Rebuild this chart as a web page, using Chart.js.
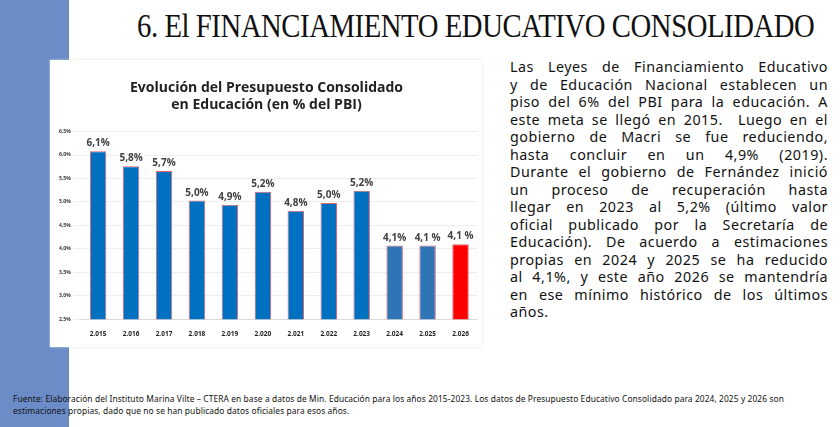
<!DOCTYPE html>
<html>
<head>
<meta charset="utf-8">
<script src="https://cdn.jsdelivr.net/npm/chart.js@4/dist/chart.umd.min.js"></script>
<style>
body{margin:0;width:840px;height:427px;background:#fff;position:relative;overflow:hidden;font-family:"Noto Sans",sans-serif}
#strip{position:absolute;left:0;top:0;width:69px;height:427px;background:#6b8cc6}
#title{position:absolute;left:137px;top:8px;font-family:"Liberation Serif",serif;font-size:33px;color:#111;white-space:nowrap;transform:scaleX(0.87);transform-origin:left top;letter-spacing:-0.5px}
#box{position:absolute;left:50px;top:60px;width:432px;height:287px;background:#fff;box-shadow:0 0 2px #ddd}
#txt{position:absolute;left:510px;top:58px;width:318px;font-family:"Noto Sans",sans-serif;font-size:14.3px;letter-spacing:0.5px;line-height:17.5px;color:#111}
#txt div{text-align:justify;text-align-last:justify;white-space:nowrap}
#txt div:last-child{text-align-last:left}
#foot{position:absolute;left:13px;top:393px;width:815px;font-size:8.4px;letter-spacing:0.1px;line-height:12px;color:#111}
</style>
</head>
<body>
<div id="strip"></div>
<div id="title">6. El FINANCIAMIENTO EDUCATIVO CONSOLIDADO</div>
<div id="box"><canvas id="c" width="432" height="287"></canvas></div>
<div id="txt"><div>Las Leyes de Financiamiento Educativo</div><div>y de Educación Nacional establecen un</div><div>piso del 6% del PBI para la educación. A</div><div>este meta se llegó en 2015.&nbsp; Luego en el</div><div>gobierno de Macri se fue reduciendo,</div><div>hasta concluir en un 4,9% (2019).</div><div>Durante el gobierno de Fernández inició</div><div>un proceso de recuperación hasta</div><div>llegar en 2023 al 5,2% (último valor</div><div>oficial publicado por la Secretaría de</div><div>Educación). De acuerdo a estimaciones</div><div>propias en 2024 y 2025 se ha reducido</div><div>al 4,1%, y este año 2026 se mantendría</div><div>en ese mínimo histórico de los últimos</div><div>años.</div></div>
<div id="foot">Fuente: Elaboración del Instituto Marina Vilte – CTERA en base a datos de Min. Educación para los años 2015-2023. Los datos de Presupuesto Educativo Consolidado para 2024, 2025 y 2026 son estimaciones propias, dado que no se han publicado datos oficiales para esos años.</div>
<script>
const years = ['2.015','2.016','2.017','2.018','2.019','2.020','2.021','2.022','2.023','2.024','2.025','2.026'];
const values = [6.08, 5.76, 5.66, 5.03, 4.94, 5.22, 4.81, 4.98, 5.24, 4.07, 4.07, 4.10];
const valueLabels = ['6,1%','5,8%','5,7%','5,0%','4,9%','5,2%','4,8%','5,0%','5,2%','4,1%','4,1 %','4,1 %'];
const barColors = ['#0070c0','#0070c0','#0070c0','#0070c0','#0070c0','#0070c0','#0070c0','#0070c0','#0070c0','#2e75b6','#2e75b6','#ff0000'];

const labelPlugin = {
  id: 'vals',
  afterDatasetsDraw(chart) {
    const ctx = chart.ctx;
    ctx.save();
    ctx.font = 'bold 10px "Open Sans"';
    ctx.fillStyle = '#404040';
    ctx.textAlign = 'center';
    chart.getDatasetMeta(0).data.forEach((bar, i) => {
      ctx.fillText(valueLabels[i], bar.x, bar.y - 5);
    });
    ctx.restore();
  }
};

new Chart(document.getElementById('c'), {
  type: 'bar',
  data: {
    labels: years,
    datasets: [{
      data: values,
      backgroundColor: barColors,
      borderColor: '#e06070',
      borderWidth: 1,
      categoryPercentage: 1,
      barPercentage: 0.5
    }]
  },
  options: {
    responsive: false,
    animation: false,
    layout: { padding: { left: 6, right: 5, top: 0, bottom: 6 } },
    plugins: {
      legend: { display: false },
      tooltip: { enabled: false },
      title: {
        display: true,
        text: ['Evolución del Presupuesto Consolidado', 'en Educación (en % del PBI)'],
        font: { family: 'Open Sans', size: 14, weight: 'bold' },
        color: '#222',
        padding: { top: 20, bottom: 18 },
        lineHeight: 1.3
      }
    },
    scales: {
      x: {
        grid: { display: false },
        border: { color: '#d9d9d9' },
        ticks: { font: { family: 'Open Sans', size: 6.5, weight: 'bold' }, color: '#222' }
      },
      y: {
        min: 2.5, max: 6.5,
        grid: { color: '#eeeeee' },
        border: { display: false },
        ticks: {
          stepSize: 0.5,
          font: { family: 'Open Sans', size: 5, weight: 'bold' },
          color: '#333',
          callback: v => v.toFixed(1).replace('.', ',') + '%'
        }
      }
    }
  },
  plugins: [labelPlugin]
});
</script>
</body>
</html>
